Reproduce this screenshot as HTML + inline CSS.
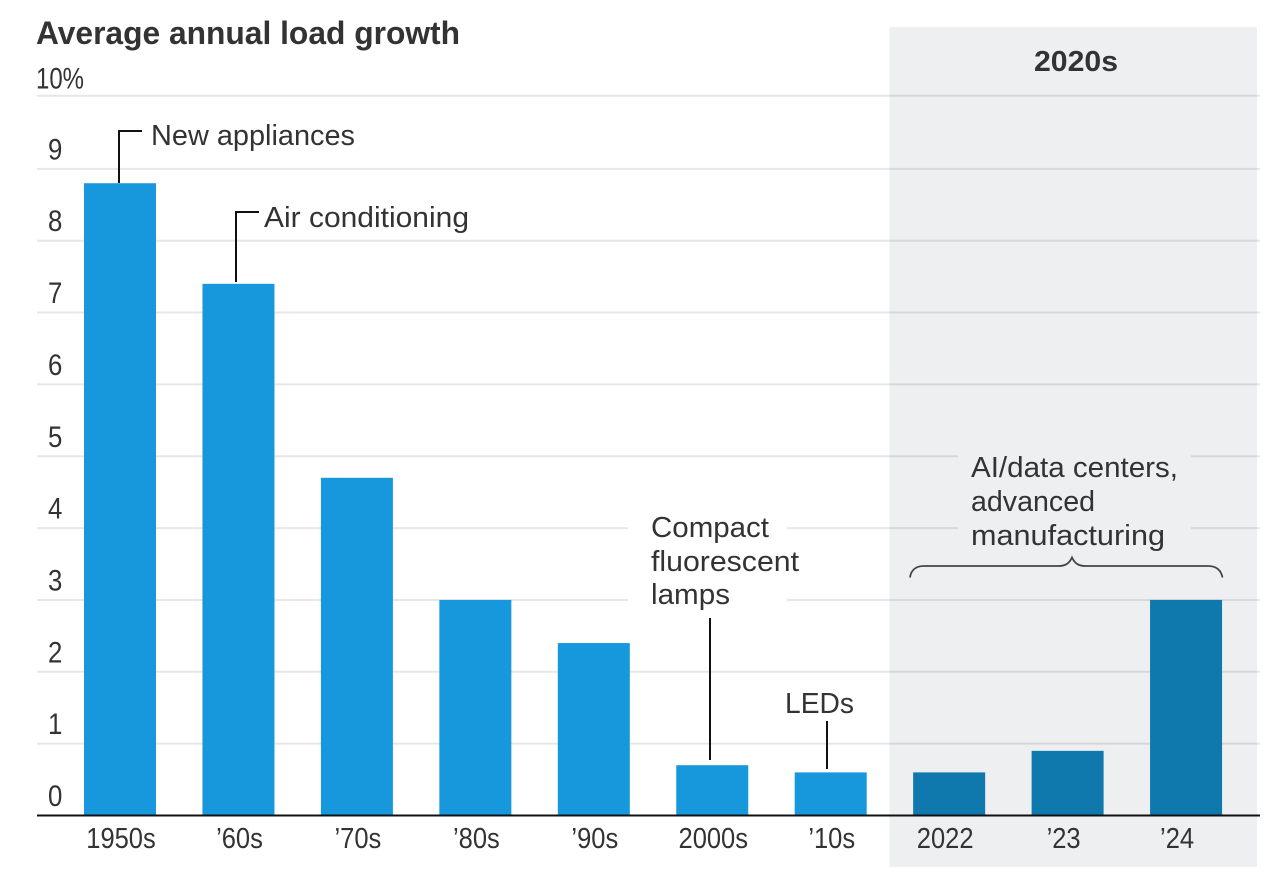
<!DOCTYPE html>
<html lang="en">
<head>
<meta charset="utf-8">
<title>Average annual load growth</title>
<style>
html,body{margin:0;padding:0;background:#fff;width:1284px;height:886px;overflow:hidden}
svg{display:block}
text{font-family:"Liberation Sans",sans-serif;fill:#333;font-size:29px}
.b{font-weight:700;font-size:32px}
</style>
</head>
<body>
<svg id="chart" xmlns="http://www.w3.org/2000/svg" width="1284" height="886" viewBox="0 0 1284 886">
  <rect x="889.5" y="27" width="367.5" height="840" fill="#eeeff1"/>
  <g id="grid"></g>
  <rect x="628" y="515" width="159" height="95" fill="#fff"/>
  <rect x="958" y="445" width="233" height="95" fill="#eeeff1"/>
  <g id="bars"></g>
  <g id="yticks"></g>
  <g id="xticks"></g>
  <line x1="37" y1="815.5" x2="1260" y2="815.5" stroke="#111" stroke-width="2"/>

  <text class="b" x="36" y="44" textLength="424" lengthAdjust="spacingAndGlyphs">Average annual load growth</text>
  <text class="b" x="1034" y="71" style="font-size:29px" textLength="84" lengthAdjust="spacingAndGlyphs">2020s</text>

  <path d="M119 183V131H142" fill="none" stroke="#111" stroke-width="2"/>
  <text x="151" y="145" textLength="204" lengthAdjust="spacingAndGlyphs">New appliances</text>
  <path d="M236 282V212H259" fill="none" stroke="#111" stroke-width="2"/>
  <text x="264" y="227" textLength="205" lengthAdjust="spacingAndGlyphs">Air conditioning</text>

  <text x="651" y="537" textLength="118" lengthAdjust="spacingAndGlyphs">Compact</text>
  <text x="651" y="571" textLength="148" lengthAdjust="spacingAndGlyphs">fluorescent</text>
  <text x="651" y="604" textLength="79" lengthAdjust="spacingAndGlyphs">lamps</text>
  <line x1="710" y1="618" x2="710" y2="760" stroke="#111" stroke-width="2"/>

  <text x="785" y="713" textLength="69" lengthAdjust="spacingAndGlyphs">LEDs</text>
  <line x1="827" y1="721" x2="827" y2="769" stroke="#111" stroke-width="2"/>

  <text x="971" y="477" textLength="207" lengthAdjust="spacingAndGlyphs">AI/data centers,</text>
  <text x="971" y="511" textLength="124" lengthAdjust="spacingAndGlyphs">advanced</text>
  <text x="971" y="545" textLength="194" lengthAdjust="spacingAndGlyphs">manufacturing</text>
  <path d="M910 577.5C911 570 916 566 924 566H1058C1065 566 1069 564 1072 557.5C1075 564 1079 566 1086 566H1208C1216 566 1221 570 1222.5 577.5" fill="none" stroke="#444" stroke-width="1.8"/>
</svg>
<script>
const categories = ["1950s", "’60s", "’70s", "’80s", "’90s", "2000s", "’10s", "2022", "’23", "’24"];
const growthValues = [8.8, 7.4, 4.7, 3.0, 2.4, 0.7, 0.6, 0.6, 0.9, 3.0];
const highlighted = [false, false, false, false, false, false, false, true, true, true];
const yTickValues = [0, 1, 2, 3, 4, 5, 6, 7, 8, 9, 10];
const yTickLabels = ["0", "1", "2", "3", "4", "5", "6", "7", "8", "9", "10%"];

const NS = "http://www.w3.org/2000/svg";
function yScale(v) { return 815.5 - v * 71.85; }
function xBand(i) { return 84 + i * 118.45; }
const barWidth = 72;
const textSquash = 0.88;
function labelCenter(i) {
  const nudge = i === 9 ? -9 : (i >= 7 ? -4 : 1);
  return xBand(i) + barWidth / 2 + nudge;
}

const grid = document.getElementById("grid");
const bars = document.getElementById("bars");
const yticks = document.getElementById("yticks");
const xticks = document.getElementById("xticks");

yTickValues.forEach(function (v, i) {
  const isTop = i === yTickValues.length - 1;
  const y = yScale(v) - (isTop ? 1.3 : 0);
  if (v > 0) {
    const line = document.createElementNS(NS, "line");
    
    
    line.setAttribute("x1", 37);
    line.setAttribute("x2", 1260);
    line.setAttribute("y1", y);
    line.setAttribute("y2", y);
    line.setAttribute("stroke", "#000");
    line.setAttribute("stroke-opacity", "0.095");
    line.setAttribute("stroke-width", "2");
    grid.appendChild(line);
  }
  const t = document.createElementNS(NS, "text");
  
  
  t.setAttribute("transform", "translate(" + (isTop ? 36 : 48) + "," + (y - (isTop ? 7 : 9.5)) + ") scale(" + (isTop ? 0.8 : 0.86) + ",1)");
  t.style.fontSize = "30px";
  t.textContent = yTickLabels[i];
  yticks.appendChild(t);
});

growthValues.forEach(function (v, i) {
  const r = document.createElementNS(NS, "rect");
  
  
  r.setAttribute("x", xBand(i));
  r.setAttribute("y", yScale(v));
  r.setAttribute("width", barWidth);
  r.setAttribute("height", yScale(0) - yScale(v));
  r.setAttribute("fill", highlighted[i] ? "#0f79ae" : "#1798dc");
  bars.appendChild(r);

  const t = document.createElementNS(NS, "text");
  
  
  t.setAttribute("text-anchor", "middle");
  t.setAttribute("transform", "translate(" + labelCenter(i) + ",848) scale(" + textSquash + ",1)");
  t.textContent = categories[i];
  xticks.appendChild(t);
});
</script>
</body>
</html>
